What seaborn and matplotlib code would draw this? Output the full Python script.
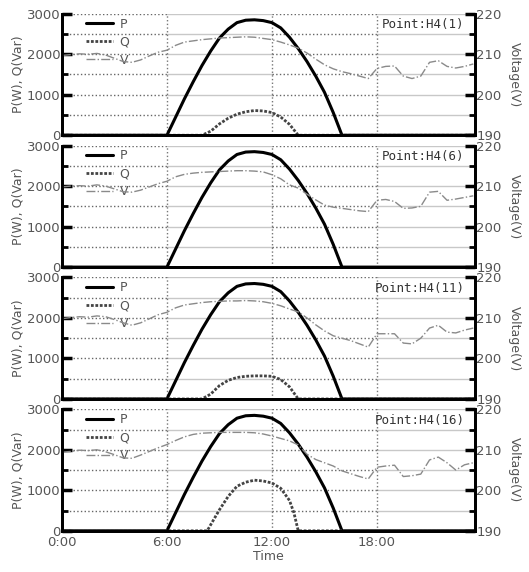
import numpy as np
import pandas as pd
import matplotlib
matplotlib.use("Agg")
import matplotlib.pyplot as plt
import seaborn as sns

# time in hours
p_time = [0, 6, 6.5, 7, 7.5, 8, 8.5, 9, 9.5, 10, 10.5, 11, 11.5, 12, 12.5, 13,
          13.5, 14, 14.5, 15, 15.5, 16, 24]
p_vals = [0, 0, 450, 900, 1320, 1720, 2080, 2400, 2620, 2780, 2840, 2850, 2830,
          2780, 2650, 2420, 2140, 1820, 1460, 1060, 560, 0, 0]

q_time = {
    "1": [0, 8.0, 8.5, 9, 9.5, 10, 10.5, 11, 11.5, 12, 12.5, 13, 13.5, 24],
    "6": [0, 24],
    "11": [0, 8.0, 8.5, 9, 9.5, 10, 10.5, 11, 11.5, 12, 12.5, 13, 13.5, 24],
    "16": [0, 8.3, 8.5, 9, 9.5, 10, 10.5, 11, 11.5, 12, 12.5, 13, 13.25, 13.5, 24],
}
q_vals = {
    "1": [0, 0, 100, 280, 420, 520, 580, 610, 600, 560, 450, 270, 0, 0],
    "6": [0, 0],
    "11": [0, 0, 120, 330, 460, 530, 560, 570, 570, 560, 480, 300, 0, 0],
    "16": [0, 0, 150, 520, 850, 1100, 1200, 1250, 1230, 1180, 1050, 750, 450, 0, 0],
}

v_time = [0, 0.5, 1, 1.5, 2, 2.5, 3, 3.5, 4, 4.5, 5, 5.5, 6, 6.5, 7, 7.5, 8, 8.5,
          9, 9.5, 10, 10.5, 11, 11.5, 12, 12.5, 13, 13.5, 14, 14.5, 15, 15.5, 16,
          16.5, 17, 17.5, 18, 18.5, 19, 19.5, 20, 20.5, 21, 21.5, 22, 22.5, 23, 23.5]
v_vals = {
    "1": [209.7, 209.9, 210.1, 210.0, 210.2, 209.8, 209.0, 208.2, 208.0, 208.6,
          209.6, 210.5, 211.0, 212.2, 213.0, 213.3, 213.6, 213.8, 214.0, 214.1,
          214.2, 214.3, 214.2, 213.9, 213.6, 213.0, 212.3, 211.5, 210.3, 208.8,
          207.4, 206.4, 205.7, 205.2, 204.6, 204.0, 206.5, 207.0, 207.1, 204.6,
          204.0, 204.6, 208.0, 208.4, 207.0, 206.6, 207.0, 207.6],
    "6": [209.8, 210.0, 210.1, 210.0, 210.3, 210.0, 209.3, 208.6, 208.5, 209.0,
          209.8, 210.6, 211.2, 212.3, 212.9, 213.2, 213.4, 213.5, 213.6, 213.7,
          213.8, 213.8, 213.7, 213.5, 212.8, 211.8, 210.3, 209.5, 208.0, 206.6,
          205.3, 204.8, 204.5, 204.2, 203.9, 203.7, 206.5, 206.7, 206.2, 204.5,
          204.6, 205.0, 208.5, 208.7, 206.5, 206.8, 207.2, 207.6],
    "11": [209.8, 210.1, 210.3, 210.2, 210.5, 210.3, 209.6, 208.8, 208.2, 208.8,
           209.8, 210.8, 211.4, 212.5, 213.2, 213.5, 213.8, 214.0, 214.1, 214.2,
           214.2, 214.3, 214.2, 214.0, 213.6, 213.0, 212.2, 211.5, 210.0, 208.3,
           206.8, 205.6, 205.0, 204.4, 203.6, 202.8, 206.1, 206.1, 206.1, 203.8,
           203.6, 205.0, 207.5, 208.2, 206.5, 206.3, 207.0, 207.5],
    "16": [209.4, 209.6, 209.9, 209.8, 210.0, 209.5, 208.8, 208.0, 207.9, 208.7,
           209.6, 210.5, 211.3, 212.3, 213.2, 213.8, 214.1, 214.2, 214.3, 214.3,
           214.3, 214.3, 214.2, 213.9, 213.4, 212.8, 212.2, 211.2, 208.9, 207.6,
           206.8, 206.0, 204.8, 204.1, 203.4, 202.8, 205.7, 206.0, 206.2, 203.4,
           203.6, 204.0, 207.5, 208.2, 206.8, 205.0, 206.3, 206.8],
}

points = ["1", "6", "11", "16"]
x_ticks = [0, 6, 12, 18]
x_labels = ["0:00", "6:00", "12:00", "18:00"]

sns.set_style("white")
plt.rcParams["font.family"] = ["DejaVu Sans"]

fig, axes = plt.subplots(4, 1, figsize=(5.29, 5.72), dpi=100, sharex=True)
fig.subplots_adjust(left=0.117, right=0.898, top=0.976, bottom=0.072, hspace=0.085)

txt = "#555555"

for ax, pt in zip(axes, points):
    ax2 = ax.twinx()
    # grid: alternating dotted / light solid segments like the original
    for yv in [500, 1000, 1500, 2000, 2500, 3000]:
        for x0, x1, ls, col in [(0, 6, ":", "#666666"), (6, 12, "-", "#c8c8c8"),
                                (12, 18, ":", "#666666"), (18, 24, "-", "#c8c8c8")]:
            ax.plot([x0, x1], [yv, yv], ls=ls, color=col, lw=1.0, zorder=0)
    for xv in [6, 12, 18]:
        ax.axvline(xv, ls=":", color="#777777", lw=1.0, zorder=0)

    dfp = pd.DataFrame({"t": p_time, "v": p_vals})
    dfq = pd.DataFrame({"t": q_time[pt], "v": q_vals[pt]})
    dfv = pd.DataFrame({"t": v_time, "v": v_vals[pt]})
    sns.lineplot(data=dfp, x="t", y="v", ax=ax, color="black", lw=2.2, label="P")
    sns.lineplot(data=dfq, x="t", y="v", ax=ax, color="#444444", lw=2.0,
                 ls=(0, (1, 0.6)), label="Q")
    sns.lineplot(data=dfv, x="t", y="v", ax=ax2, color="#8a8a8a", lw=1.0,
                 ls="-.", legend=False)

    ax.set_xlim(0, 23.6)
    ax.set_ylim(0, 3000)
    ax2.set_ylim(190, 220)
    ax.set_yticks([0, 1000, 2000, 3000])
    ax.set_yticks([500, 1500, 2500], minor=True)
    ax2.set_yticks([190, 200, 210, 220])
    ax2.set_yticks([195, 205, 215], minor=True)
    ax.set_xticks(x_ticks)
    ax.set_xticklabels(x_labels)
    for a in (ax, ax2):
        a.tick_params(which="major", direction="in", length=7, width=2.5,
                      labelsize=9.5, labelcolor=txt, color="black")
        a.tick_params(which="minor", direction="in", length=4, width=2,
                      color="black")
        a.spines["top"].set_visible(False)
        for s in ["left", "right", "bottom"]:
            a.spines[s].set_linewidth(2)
            a.spines[s].set_color("black")
    ax.tick_params(axis="y", pad=1)
    ax2.tick_params(axis="y", pad=1)

    ax.set_ylabel("P(W), Q(Var)", color=txt, fontsize=9, labelpad=2)
    ax2.set_ylabel("Voltage(V)", color=txt, fontsize=9, rotation=270, labelpad=14)
    ax.set_xlabel("")

    h, l = ax.get_legend_handles_labels()
    h += ax2.get_lines()[-1:]
    l += ["V"]
    ax.legend(h, l, loc="upper left", frameon=False, fontsize=9,
              handlelength=2.2, handletextpad=0.5, labelspacing=0.4,
              borderaxespad=0.2, bbox_to_anchor=(0.04, 1.03), labelcolor=txt)
    ax.text(0.975, 0.965, "Point:H4(" + pt + ")", transform=ax.transAxes,
            ha="right", va="top", fontsize=9, family="DejaVu Sans Mono",
            color="#333333", zorder=5)

axes[-1].set_xlabel("Time", color=txt, fontsize=9, labelpad=1)
for ax in axes[:-1]:
    ax.tick_params(axis="x", labelbottom=False)

fig.savefig("out.png", dpi=100)
